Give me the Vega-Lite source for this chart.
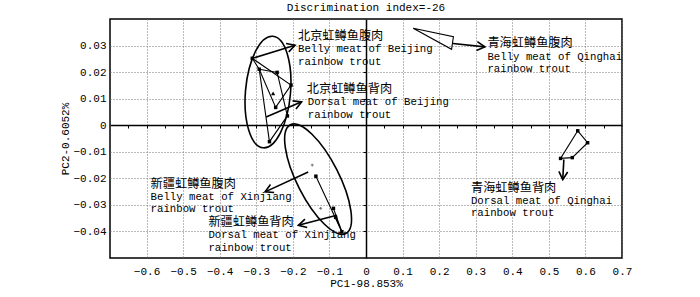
{
  "$schema": "https://vega.github.io/schema/vega-lite/v6.json",
  "width": 512,
  "height": 239,
  "autosize": {"type": "none"},
  "padding": {"left": 110, "top": 19, "right": 78, "bottom": 39},
  "background": "white",
  "title": {"text": "Discrimination index=-26", "font": "Liberation Mono", "fontSize": 11, "fontWeight": "normal", "color": "black", "offset": 6, "anchor": "middle"},
  "config": {"view": {"stroke": "black", "strokeWidth": 1.5}},
  "resolve": {"axis": {"x": "independent", "y": "independent"}},
  "datasets": {
    "hull": [
      {"g": "bb", "o": 1, "x": -0.311, "y": 0.0252},
      {"g": "bb", "o": 2, "x": -0.205, "y": 0.0151},
      {"g": "bb", "o": 3, "x": -0.247, "y": 0.0067},
      {"g": "bb", "o": 4, "x": -0.292, "y": 0.0211},
      {"g": "bb", "o": 5, "x": -0.311, "y": 0.0252},
      {"g": "bd", "o": 1, "x": -0.292, "y": 0.0211},
      {"g": "bd", "o": 2, "x": -0.243, "y": 0.0199},
      {"g": "bd", "o": 3, "x": -0.215, "y": 0.0035},
      {"g": "bd", "o": 4, "x": -0.264, "y": -0.0062},
      {"g": "bd", "o": 5, "x": -0.292, "y": 0.0211},
      {"g": "xd", "o": 1, "x": -0.137, "y": -0.0192},
      {"g": "xd", "o": 2, "x": -0.066, "y": -0.0401},
      {"g": "xd", "o": 3, "x": -0.089, "y": -0.0313},
      {"g": "xd2", "o": 1, "x": -0.083, "y": -0.0347},
      {"g": "xd2", "o": 2, "x": -0.066, "y": -0.0401},
      {"g": "qb", "o": 1, "x": 0.129, "y": 0.0365},
      {"g": "qb", "o": 2, "x": 0.239, "y": 0.0333},
      {"g": "qb", "o": 3, "x": 0.234, "y": 0.0286},
      {"g": "qb", "o": 4, "x": 0.129, "y": 0.0365},
      {"g": "qd", "o": 1, "x": 0.579, "y": -0.0021},
      {"g": "qd", "o": 2, "x": 0.606, "y": -0.0066},
      {"g": "qd", "o": 3, "x": 0.564, "y": -0.0122},
      {"g": "qd", "o": 4, "x": 0.532, "y": -0.0125},
      {"g": "qd", "o": 5, "x": 0.579, "y": -0.0021}
    ],
    "pts": [
      {"x": -0.311, "y": 0.0252},
      {"x": -0.292, "y": 0.0211},
      {"x": -0.243, "y": 0.0199},
      {"x": -0.205, "y": 0.0151},
      {"x": -0.247, "y": 0.0067},
      {"x": -0.215, "y": 0.0035},
      {"x": -0.264, "y": -0.0062},
      {"x": -0.137, "y": -0.0192},
      {"x": -0.089, "y": -0.0313},
      {"x": -0.083, "y": -0.0347},
      {"x": -0.066, "y": -0.0401},
      {"x": 0.579, "y": -0.0021},
      {"x": 0.606, "y": -0.0066},
      {"x": 0.564, "y": -0.0122},
      {"x": 0.532, "y": -0.0125}
    ],
    "centroid": [{"x": -0.254, "y": 0.0120}],
    "faint": [{"x": -0.147, "y": -0.0150}, {"x": -0.124, "y": -0.0313}],
    "ell": [
      {"c": "Beijing", "x": -0.268, "y": 0.0125},
      {"c": "Xinjiang", "x": -0.131, "y": -0.0203}
    ],
    "arrows": [
      {"x": -0.310, "y": 0.0252, "x2": -0.194, "y2": 0.0301, "ang": -17.5},
      {"x": -0.273, "y": 0.0031, "x2": -0.176, "y2": 0.0088, "ang": -22.8},
      {"x": -0.158, "y": -0.0176, "x2": -0.276, "y2": -0.0251, "ang": 155.2},
      {"x": -0.080, "y": -0.0339, "x2": -0.185, "y2": -0.0377, "ang": 165.4},
      {"x": 0.238, "y": 0.0308, "x2": 0.325, "y2": 0.0295, "ang": 6},
      {"x": 0.541, "y": -0.0129, "x2": 0.538, "y2": -0.0205, "ang": 93.7}
    ],
    "cjk": [
      {"x": -0.186, "y": 0.0336, "t": "北京虹鳟鱼腹肉"},
      {"x": -0.162, "y": 0.0135, "t": "北京虹鳟鱼背肉"},
      {"x": 0.332, "y": 0.0308, "t": "青海虹鳟鱼腹肉"},
      {"x": 0.287, "y": -0.0235, "t": "青海虹鳟鱼背肉"},
      {"x": -0.589, "y": -0.0221, "t": "新疆虹鳟鱼腹肉"},
      {"x": -0.431, "y": -0.0365, "t": "新疆虹鳟鱼背肉"}
    ],
    "lat": [
      {"x": -0.186, "y": 0.0287, "t": "Belly meat of Beijing"},
      {"x": -0.186, "y": 0.0238, "t": "rainbow trout"},
      {"x": -0.159, "y": 0.0088, "t": "Dorsal meat of Beijing"},
      {"x": -0.159, "y": 0.0038, "t": "rainbow trout"},
      {"x": 0.332, "y": 0.0258, "t": "Belly meat of Qinghai"},
      {"x": 0.332, "y": 0.0212, "t": "rainbow trout"},
      {"x": 0.287, "y": -0.0285, "t": "Dorsal meat of Qinghai"},
      {"x": 0.287, "y": -0.0332, "t": "rainbow trout"},
      {"x": -0.589, "y": -0.0269, "t": "Belly meat of Xinjiang"},
      {"x": -0.589, "y": -0.0315, "t": "rainbow trout"},
      {"x": -0.431, "y": -0.0414, "t": "Dorsal meat of Xinjiang"},
      {"x": -0.431, "y": -0.0461, "t": "rainbow trout"}
    ]
  },
  "layer": [
    {
      "data": {"name": "hull"},
      "mark": {"type": "line", "color": "black", "strokeWidth": 1.1},
      "encoding": {
        "x": {"field": "x", "type": "quantitative", "scale": {"domain": [-0.7, 0.7], "nice": false, "zero": false},
          "axis": {"orient": "bottom", "values": [-0.6, -0.5, -0.4, -0.3, -0.2, -0.1, 0, 0.1, 0.2, 0.3, 0.4, 0.5, 0.6, 0.7], "format": "~g", "grid": true, "gridDash": [1, 2], "gridColor": "#777", "gridWidth": 1, "ticks": false, "domain": false, "labelFont": "Liberation Mono", "labelFontSize": 11, "labelColor": "black", "labelPadding": 7, "labelOverlap": false, "labelFlush": false, "labelBound": false, "title": "PC1-98.853%", "titleFont": "Liberation Mono", "titleFontSize": 11, "titleFontWeight": "normal", "titleColor": "black", "titlePadding": 1}},
        "y": {"field": "y", "type": "quantitative", "scale": {"domain": [-0.05, 0.04], "nice": false, "zero": false},
          "axis": {"orient": "left", "values": [-0.04, -0.03, -0.02, -0.01, 0, 0.01, 0.02, 0.03], "format": "~g", "grid": true, "gridDash": [1, 2], "gridColor": "#777", "gridWidth": 1, "ticks": false, "domain": false, "labelFont": "Liberation Mono", "labelFontSize": 11, "labelColor": "black", "labelPadding": 4, "labelOverlap": false, "labelFlush": false, "labelBound": false, "title": "PC2-0.6052%", "titleFont": "Liberation Mono", "titleFontSize": 11, "titleFontWeight": "normal", "titleColor": "black", "titlePadding": 2}},
        "detail": {"field": "g"},
        "order": {"field": "o", "type": "quantitative"}
      }
    },
    {
      "data": {"name": "pts"},
      "mark": {"type": "point", "shape": "square", "filled": true, "color": "black", "size": 12, "opacity": 1},
      "encoding": {
        "x": {"field": "x", "type": "quantitative", "scale": {"domain": [-0.7, 0.7], "nice": false, "zero": false},
          "axis": {"orient": "bottom", "offset": -133, "values": [-0.65, -0.6, -0.55, -0.5, -0.45, -0.4, -0.35, -0.3, -0.25, -0.2, -0.15, -0.1, -0.05, 0.05, 0.1, 0.15, 0.2, 0.25, 0.3, 0.35, 0.4, 0.45, 0.5, 0.55, 0.6, 0.65], "labels": false, "grid": false, "ticks": true, "tickSize": 3, "tickColor": "black", "tickWidth": 1, "domain": true, "domainColor": "black", "domainWidth": 1.5, "title": null}},
        "y": {"field": "y", "type": "quantitative", "scale": {"domain": [-0.05, 0.04], "nice": false, "zero": false},
          "axis": {"orient": "left", "offset": -256, "values": [-0.04, -0.03, -0.02, -0.01, 0.01, 0.02, 0.03], "labels": false, "grid": false, "ticks": true, "tickSize": 3, "tickColor": "black", "tickWidth": 1, "domain": true, "domainColor": "black", "domainWidth": 1.5, "title": null}}
      }
    },
    {
      "data": {"name": "centroid"},
      "mark": {"type": "point", "shape": "triangle-up", "filled": true, "color": "black", "size": 18, "opacity": 1},
      "encoding": {
        "x": {"field": "x", "type": "quantitative", "scale": {"domain": [-0.7, 0.7], "nice": false, "zero": false}, "axis": null},
        "y": {"field": "y", "type": "quantitative", "scale": {"domain": [-0.05, 0.04], "nice": false, "zero": false}, "axis": null}
      }
    },
    {
      "data": {"name": "faint"},
      "mark": {"type": "point", "shape": "cross", "filled": true, "color": "#777", "size": 8, "opacity": 1},
      "encoding": {
        "x": {"field": "x", "type": "quantitative", "scale": {"domain": [-0.7, 0.7], "nice": false, "zero": false}, "axis": null},
        "y": {"field": "y", "type": "quantitative", "scale": {"domain": [-0.05, 0.04], "nice": false, "zero": false}, "axis": null}
      }
    },
    {
      "data": {"name": "ell"},
      "transform": [{"filter": "datum.c === 'Beijing'"}],
      "mark": {"type": "point", "shape": "M0,-1C0.222,-1,0.402,-0.552,0.402,0C0.402,0.552,0.222,1,0,1C-0.222,1,-0.402,0.552,-0.402,0C-0.402,-0.552,-0.222,-1,0,-1Z", "size": 12544, "angle": 5, "filled": false, "stroke": "black", "strokeWidth": 1.6, "opacity": 1},
      "encoding": {
        "x": {"field": "x", "type": "quantitative", "scale": {"domain": [-0.7, 0.7], "nice": false, "zero": false}, "axis": null},
        "y": {"field": "y", "type": "quantitative", "scale": {"domain": [-0.05, 0.04], "nice": false, "zero": false}, "axis": null}
      }
    },
    {
      "data": {"name": "ell"},
      "transform": [{"filter": "datum.c === 'Xinjiang'"}],
      "mark": {"type": "point", "shape": "M0,-1C0.19,-1,0.344,-0.552,0.344,0C0.344,0.552,0.19,1,0,1C-0.19,1,-0.344,0.552,-0.344,0C-0.344,-0.552,-0.19,-1,0,-1Z", "size": 14884, "angle": -27, "filled": false, "stroke": "black", "strokeWidth": 1.6, "opacity": 1},
      "encoding": {
        "x": {"field": "x", "type": "quantitative", "scale": {"domain": [-0.7, 0.7], "nice": false, "zero": false}, "axis": null},
        "y": {"field": "y", "type": "quantitative", "scale": {"domain": [-0.05, 0.04], "nice": false, "zero": false}, "axis": null}
      }
    },
    {
      "data": {"name": "arrows"},
      "mark": {"type": "rule", "color": "black", "strokeWidth": 1.6},
      "encoding": {
        "x": {"field": "x", "type": "quantitative", "scale": {"domain": [-0.7, 0.7], "nice": false, "zero": false}, "axis": null},
        "y": {"field": "y", "type": "quantitative", "scale": {"domain": [-0.05, 0.04], "nice": false, "zero": false}, "axis": null},
        "x2": {"field": "x2"},
        "y2": {"field": "y2"}
      }
    },
    {
      "data": {"name": "arrows"},
      "mark": {"type": "point", "shape": "M-1,-0.55L0,0L-1,0.55", "size": 256, "filled": false, "stroke": "black", "strokeWidth": 1.6, "opacity": 1},
      "encoding": {
        "x": {"field": "x2", "type": "quantitative", "scale": {"domain": [-0.7, 0.7], "nice": false, "zero": false}, "axis": null},
        "y": {"field": "y2", "type": "quantitative", "scale": {"domain": [-0.05, 0.04], "nice": false, "zero": false}, "axis": null},
        "angle": {"field": "ang", "type": "quantitative", "scale": null}
      }
    },
    {
      "data": {"name": "cjk"},
      "mark": {"type": "text", "font": "Noto Sans CJK SC", "fontSize": 12.2, "align": "left", "baseline": "middle", "color": "black"},
      "encoding": {
        "x": {"field": "x", "type": "quantitative", "scale": {"domain": [-0.7, 0.7], "nice": false, "zero": false}, "axis": null},
        "y": {"field": "y", "type": "quantitative", "scale": {"domain": [-0.05, 0.04], "nice": false, "zero": false}, "axis": null},
        "text": {"field": "t"}
      }
    },
    {
      "data": {"name": "lat"},
      "mark": {"type": "text", "font": "Liberation Mono", "fontSize": 10.7, "align": "left", "baseline": "middle", "color": "black"},
      "encoding": {
        "x": {"field": "x", "type": "quantitative", "scale": {"domain": [-0.7, 0.7], "nice": false, "zero": false}, "axis": null},
        "y": {"field": "y", "type": "quantitative", "scale": {"domain": [-0.05, 0.04], "nice": false, "zero": false}, "axis": null},
        "text": {"field": "t"}
      }
    }
  ]
}
